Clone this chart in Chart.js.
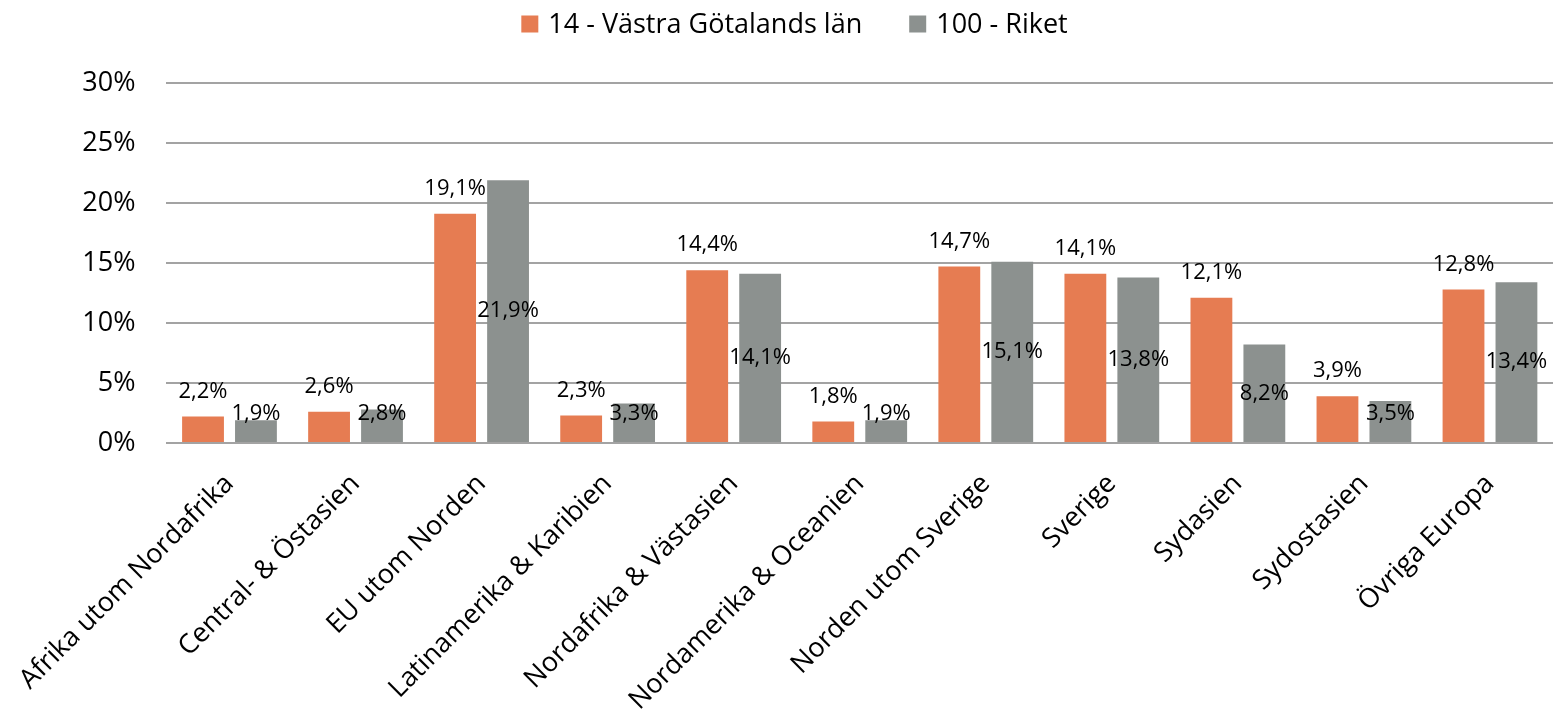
<!DOCTYPE html>
<html>
<head>
<meta charset="utf-8">
<script src="https://cdn.jsdelivr.net/npm/chart.js@4.4.1/dist/chart.umd.min.js"></script>
<style>
    html, body { margin: 0; padding: 0; background: #ffffff; }
    #chart_box { width: 1565px; height: 714px; }
</style>
</head>
<body>
<div id="chart_box"><canvas id="graph0"></canvas></div>
<script>
var CHART0   = null;

// data (percent)
let categories     = [
    "Afrika utom Nordafrika",
    "Central- & Östasien",
    "EU utom Norden",
    "Latinamerika & Karibien",
    "Nordafrika & Västasien",
    "Nordamerika & Oceanien",
    "Norden utom Sverige",
    "Sverige",
    "Sydasien",
    "Sydostasien",
    "Övriga Europa"
];
let series_names   = ["14 - Västra Götalands län", "100 - Riket"];
let vg_values      = [2.2, 2.6, 19.1, 2.3, 14.4, 1.8, 14.7, 14.1, 12.1, 3.9, 12.8];
let riket_values   = [1.9, 2.8, 21.9, 3.3, 14.1, 1.9, 15.1, 13.8, 8.2, 3.5, 13.4];
let y_ticks        = [0, 5, 10, 15, 20, 25, 30];
let series_colors  = ["#E67C52", "#8C918F"];

let FONT_NAME   = "'Open Sans', sans-serif";


function format_pct(v){
    return v.toFixed(1).replace(".", ",") + "%";
}


//数値ラベル: 1本目は棒の上、2本目は棒の中央
let value_label_plugin = {
    id: "value_labels",
    afterDatasetsDraw: function(chart){
        let ctx = chart.ctx;
        ctx.save();
        ctx.font          = "22px " + FONT_NAME;
        ctx.fillStyle     = "#000000";
        ctx.textAlign     = "center";
        ctx.textBaseline  = "middle";
        chart.data.datasets.forEach(function(ds, di){
            let meta = chart.getDatasetMeta(di);
            meta.data.forEach(function(bar, i){
                let y;
                if (di === 0){
                    y = bar.y - 25;
                }
                else{
                    y = Math.min((bar.y + bar.base) / 2, bar.base - 28);
                }
                ctx.fillText(format_pct(ds.data[i]), bar.x, y);
            });
        });
        ctx.restore();
    }
};

//凡例は自前で描く (項目間の間隔を広くするため)
let legend_plugin = {
    id: "top_legend",
    afterDraw: function(chart){
        let ctx       = chart.ctx;
        let box       = 17;
        let gap       = 10;
        let item_gap  = 47;
        let cy        = 24;
        ctx.save();
        ctx.font          = "27px " + FONT_NAME;
        ctx.textBaseline  = "middle";
        ctx.textAlign     = "left";
        let widths = chart.data.datasets.map(function(ds){
            return box + gap + ctx.measureText(ds.label).width;
        });
        let total = widths.reduce(function(a, b){ return a + b; }, 0) + item_gap * (widths.length - 1);
        let x = chart.width / 2 + 12 - total / 2;
        chart.data.datasets.forEach(function(ds, i){
            ctx.fillStyle = ds.backgroundColor;
            ctx.fillRect(x, cy - box / 2, box, box);
            ctx.fillStyle = "#000000";
            ctx.fillText(ds.label, x + box + gap, cy + 1);
            x += widths[i] + item_gap;
        });
        ctx.restore();
    }
};


window.addEventListener("load", function(){
    draw_bar_graph();
});


function draw_bar_graph(){

    let ctx0 = document.getElementById("graph0");

    if (CHART0) {
        CHART0.destroy();
    }

    CHART0 = new Chart(ctx0, {
        type: "bar",
        data: {
            labels: categories,
            datasets: [
                {
                    label: series_names[0],
                    data: vg_values,
                    backgroundColor: series_colors[0],
                    borderWidth: 0,
                    categoryPercentage: 0.84,
                    barPercentage: 0.79
                },
                {
                    label: series_names[1],
                    data: riket_values,
                    backgroundColor: series_colors[1],
                    borderWidth: 0,
                    categoryPercentage: 0.84,
                    barPercentage: 0.79
                }
            ]
        },
        options: {
            responsive: true,
            maintainAspectRatio: false,
            animation: false,
            layout: {
                padding: { top: 83, right: 12, bottom: 0, left: 0 }
            },
            plugins: {
                legend: { display: false },
                tooltip: { enabled: false }
            },
            scales: {
                x: {
                    grid: { display: false },
                    border: { display: false },
                    ticks: {
                        color: "#000000",
                        font: { family: FONT_NAME, size: 27 },
                        maxRotation: 45,
                        minRotation: 45,
                        autoSkip: false,
                        padding: 17
                    },
                    afterFit: function(scale){ scale.height = 271; }
                },
                y: {
                    min: 0,
                    max: 30,
                    border: { display: false },
                    grid: {
                        color: "#A3A3A3",
                        lineWidth: 2,
                        drawTicks: false
                    },
                    afterBuildTicks: function(scale){
                        scale.ticks = y_ticks.map(function(v){ return { value: v }; });
                    },
                    ticks: {
                        color: "#000000",
                        font: { family: FONT_NAME, size: 27 },
                        padding: 31,
                        callback: function(v){ return v + "%"; }
                    },
                    afterFit: function(scale){ scale.width = 165; }
                }
            }
        },
        plugins: [value_label_plugin, legend_plugin]
    });
}
</script>
</body>
</html>
